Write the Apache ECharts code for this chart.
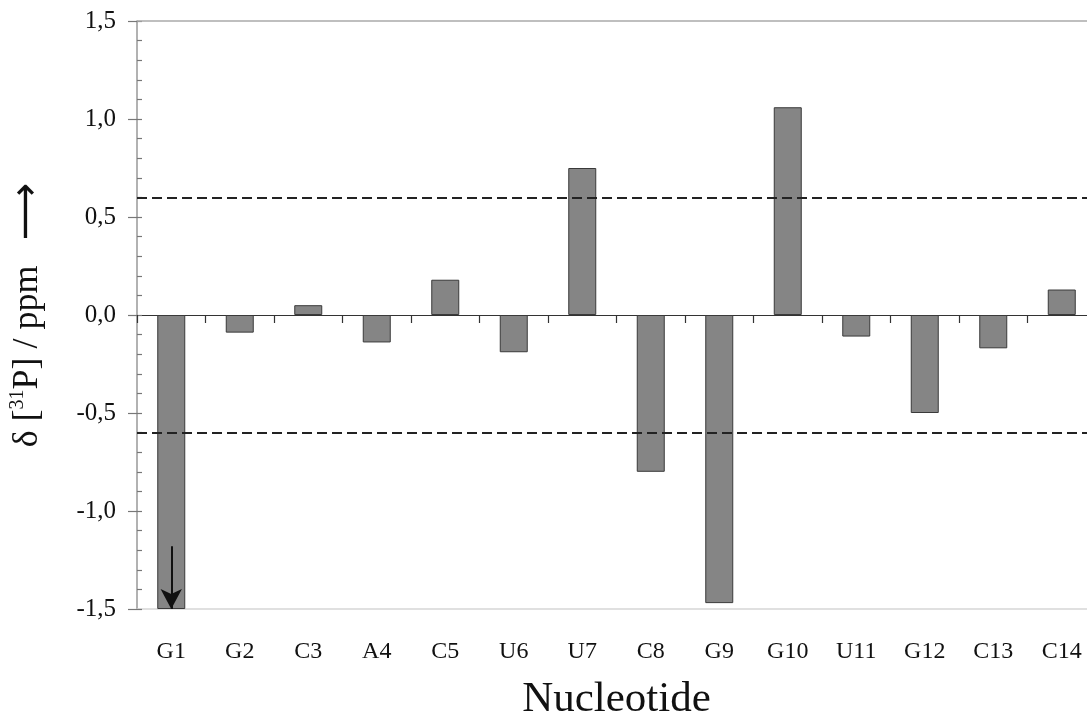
<!DOCTYPE html>
<html>
<head>
<meta charset="utf-8">
<script src="https://cdn.jsdelivr.net/npm/echarts@6/dist/echarts.min.js"></script>
<style>
  html, body { margin: 0; padding: 0; background: #fff; }
  #chart { width: 1087px; height: 716px; }
</style>
</head>
<body>
<div id="chart"></div>
<script>
// ---- data ----
const categories = ['G1', 'G2', 'C3', 'A4', 'C5', 'U6', 'U7', 'C8', 'G9', 'G10', 'U11', 'G12', 'C13', 'C14'];
const shifts = [-1.5, -0.09, 0.05, -0.14, 0.18, -0.19, 0.75, -0.80, -1.47, 1.06, -0.11, -0.50, -0.17, 0.13];
const thresholds = [0.6, -0.6];
const yMin = -1.5, yMax = 1.5, yStep = 0.5;
const offScaleArrow = { category: 'G1', from: -1.18, to: -1.5 };

const serif = '"Liberation Serif", "DejaVu Serif", "Times New Roman", serif';
const fmt = v => v.toFixed(1).replace('.', ',');

const chart = echarts.init(document.getElementById('chart'));
chart.setOption({
  animation: false,
  backgroundColor: '#fff',
  grid: { left: 137, right: -9, top: 21, bottom: 107, containLabel: false, outerBoundsMode: 'none' },
  xAxis: [
    {
      type: 'category', data: categories, position: 'bottom',
      axisLine: { onZero: false, lineStyle: { color: '#d6d6d6', width: 1.5 } },
      axisTick: { show: false },
      axisLabel: { margin: 31, fontFamily: serif, fontSize: 24, color: '#111' },
      name: 'Nucleotide', nameLocation: 'middle', nameGap: 69,
      nameTextStyle: { fontFamily: serif, fontSize: 43, color: '#111' }
    },
    {
      type: 'category', data: categories, position: 'top',
      axisLine: { onZero: true, lineStyle: { color: '#333', width: 1.2 } },
      axisTick: { show: true, inside: true, length: 8, lineStyle: { color: '#333', width: 1.2 } },
      axisLabel: { show: false }
    }
  ],
  yAxis: [
    {
      type: 'value', min: yMin, max: yMax, interval: yStep, position: 'left',
      axisLine: { show: true, onZero: false, lineStyle: { color: '#999', width: 1.5 } },
      axisTick: { show: true, inside: false, length: 9, lineStyle: { color: '#777', width: 1.2 } },
      splitLine: { show: false },
      axisLabel: { formatter: fmt, margin: 21, fontFamily: serif, fontSize: 25, color: '#111' },
      name: '{t|δ [}{s|31}{t|P] / ppm}{a|  ⟶}',
      nameLocation: 'middle', nameGap: 89,
      nameTextStyle: {
        color: '#111',
        rich: {
          t: { fontFamily: serif, fontSize: 36, color: '#111' },
          s: { fontFamily: serif, fontSize: 20, color: '#111', verticalAlign: 'top', padding: [0, 0, 15, 0] },
          a: { fontFamily: '"DejaVu Sans", sans-serif', fontSize: 40, color: '#111' }
        }
      }
    },
    {
      type: 'value', min: yMin, max: yMax, interval: yStep, position: 'left',
      axisLine: { show: false },
      axisTick: { show: true, inside: true, length: 5, lineStyle: { color: '#777', width: 1.2 } },
      minorTick: { show: true, splitNumber: 5, length: 5, lineStyle: { color: '#777', width: 1.2 } },
      splitLine: { show: false },
      axisLabel: { show: false }
    }
  ],
  series: [
    {
      type: 'bar', data: shifts, xAxisIndex: 0, yAxisIndex: 0,
      barWidth: 28,
      itemStyle: { color: '#858585', borderColor: '#3a3a3a', borderWidth: 1 },
      markLine: {
        silent: true, symbol: 'none', label: { show: false },
        data: [
          { yAxis: yMax, lineStyle: { type: 'solid', color: '#aaaaaa', width: 1.5 } }
        ].concat(thresholds.map(v => ({
          yAxis: v, lineStyle: { type: [10, 5], color: '#222', width: 2 }
        })))
      }
    },
    {
      type: 'line', data: [], xAxisIndex: 0, yAxisIndex: 0,
      markLine: {
        silent: true, label: { show: false },
        symbol: ['none', 'arrow'], symbolSize: [16, 20],
        lineStyle: { type: 'solid', color: '#111', width: 2 },
        data: [[
          { coord: [offScaleArrow.category, offScaleArrow.from] },
          { coord: [offScaleArrow.category, offScaleArrow.to] }
        ]]
      }
    }
  ]
});
</script>
</body>
</html>
